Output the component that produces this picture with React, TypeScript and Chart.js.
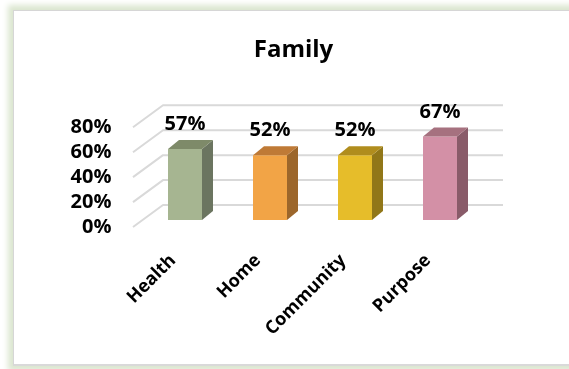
import React, { useEffect, useRef } from 'react';
import { Chart, registerables } from 'chart.js';

Chart.register(...registerables);

const titleText = 'Family';
const categories = ['Health', 'Home', 'Community', 'Purpose'];
const values = [57, 52, 52, 67];
const yTicks = [0, 20, 40, 60, 80];
const frontColors = ['#A6B591', '#F2A446', '#E6BD2A', '#D390A6'];
const sideColors = ['#6B7560', '#9C662B', '#917718', '#895B69'];
const topColors = ['#7E8A69', '#BF7A36', '#B08D1D', '#A6717F'];

const FONT = "'Open Sans', 'DejaVu Sans', sans-serif";
const BAR_DX = 11;
const BAR_DY = -9;

const plugin3d = {
  id: 'plugin3d',
  beforeDatasetsDraw(chart: any) {
    const { ctx, chartArea, scales } = chart;
    const y = scales.y;
    const frontL = chartArea.left - 9.5;
    const backL = chartArea.left + 20.5;
    const backR = chartArea.right + 20.5;
    ctx.save();
    ctx.strokeStyle = '#D9D9D9';
    ctx.lineWidth = 2;
    ctx.lineJoin = 'round';
    yTicks.forEach((v) => {
      const p = y.getPixelForValue(v);
      ctx.beginPath();
      ctx.moveTo(frontL, p + 7);
      ctx.lineTo(backL, p - 15);
      ctx.lineTo(backR, p - 15);
      ctx.stroke();
    });
    ctx.restore();
  },
  afterDatasetsDraw(chart: any) {
    const { ctx } = chart;
    const meta = chart.getDatasetMeta(0);
    ctx.save();
    meta.data.forEach((bar: any, i: number) => {
      const { x, y, base, width } = bar.getProps(['x', 'y', 'base', 'width'], true);
      const l = x - width / 2;
      const r = x + width / 2;
      ctx.fillStyle = sideColors[i];
      ctx.beginPath();
      ctx.moveTo(r, y);
      ctx.lineTo(r + BAR_DX, y + BAR_DY);
      ctx.lineTo(r + BAR_DX, base + BAR_DY);
      ctx.lineTo(r, base);
      ctx.closePath();
      ctx.fill();
      ctx.fillStyle = topColors[i];
      ctx.beginPath();
      ctx.moveTo(l, y);
      ctx.lineTo(l + BAR_DX, y + BAR_DY);
      ctx.lineTo(r + BAR_DX, y + BAR_DY);
      ctx.lineTo(r, y);
      ctx.closePath();
      ctx.fill();
      ctx.fillStyle = '#000';
      ctx.font = `bold 20px ${FONT}`;
      ctx.textAlign = 'center';
      ctx.textBaseline = 'middle';
      ctx.fillText(values[i] + '%', x, y - 24.5);
    });
    ctx.restore();
  },
};

function ChartView() {
  const ref = useRef<HTMLCanvasElement>(null);
  useEffect(() => {
    if (!ref.current) return;
    Chart.defaults.font.family = FONT;
    Chart.defaults.color = '#000';
    const chart = new Chart(ref.current, {
      type: 'bar',
      data: {
        labels: categories,
        datasets: [
          {
            data: values,
            backgroundColor: frontColors,
            borderWidth: 0,
            barPercentage: 0.4,
            categoryPercentage: 1,
          },
        ],
      },
      options: {
        animation: false,
        responsive: false,
        events: [],
        layout: { padding: { left: 20, right: 2, top: 12, bottom: 0 } },
        plugins: {
          legend: { display: false },
          tooltip: { enabled: false },
          title: {
            display: true,
            text: titleText,
            color: '#000',
            font: { size: 24, weight: 'bold', family: FONT },
            padding: { top: 24, bottom: 55.5 },
          },
        },
        scales: {
          x: {
            grid: { display: false, drawTicks: false },
            border: { display: false },
            ticks: {
              autoSkip: false,
              maxRotation: 45,
              minRotation: 45,
              padding: 30,
              labelOffset: -12,
              color: '#000',
              font: { size: 18, weight: 'bold', family: FONT },
            },
            afterFit: (s: any) => {
              s.height = 149;
            },
          },
          y: {
            min: yTicks[0],
            max: yTicks[yTicks.length - 1],
            grid: { display: false, drawTicks: false },
            border: { display: false },
            ticks: {
              autoSkip: false,
              stepSize: yTicks[1] - yTicks[0],
              padding: 31,
              labelOffset: 7,
              color: '#000',
              font: { size: 20, weight: 'bold', family: FONT },
              callback: (v: any) => v + '%',
            },
            afterFit: (s: any) => {
              s.width = 122.5;
            },
          },
          yR: {
            position: 'right',
            display: true,
            grid: { display: false, drawTicks: false },
            border: { display: false },
            ticks: { display: false },
            afterFit: (s: any) => {
              s.width = 84.5;
            },
          },
        },
      },
      plugins: [plugin3d],
    } as any);
    return () => chart.destroy();
  }, []);
  return (
    <canvas
      ref={ref}
      width={569}
      height={369}
      style={{ position: 'absolute', left: 0, top: 0, width: 569, height: 369 }}
    />
  );
}

export default function App() {
  return (
    <div
      style={{
        position: 'fixed',
        left: 0,
        top: 0,
        width: 569,
        height: 369,
        overflow: 'hidden',
        background: '#ffffff',
      }}
    >
      <div
        style={{
          position: 'absolute',
          left: 13,
          top: 10,
          width: 600,
          height: 356,
          boxSizing: 'border-box',
          background: '#ffffff',
          borderLeft: '1px solid #d6d6d6',
          borderTop: '1px solid #d6d6d6',
          borderBottom: '2px solid #d9d9d9',
          boxShadow: '0 0 6px 5px #dbe6cf',
        }}
      />
      <ChartView />
    </div>
  );
}
